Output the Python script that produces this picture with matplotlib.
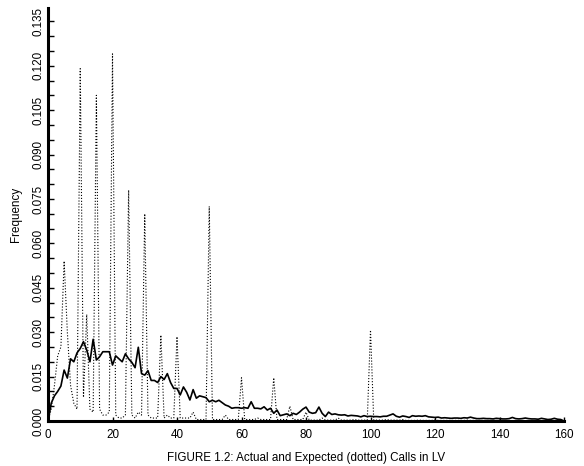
import matplotlib
matplotlib.use("Agg")
import matplotlib.pyplot as plt
import numpy as np
from matplotlib.ticker import MultipleLocator, FormatStrFormatter

plt.rcParams['font.family'] = ['Liberation Sans', 'DejaVu Sans']

# actual call frequencies, x = 0, 1, 2, ... 160
actual = [
    0.0000, 0.0060, 0.0085, 0.0100, 0.0118, 0.0172, 0.0145, 0.0210, 0.0200, 0.0230,
    0.0245, 0.0268, 0.0240, 0.0200, 0.0276, 0.0206, 0.0217, 0.0234, 0.0234, 0.0234,
    0.0189, 0.0220, 0.0210, 0.0200, 0.0227, 0.0210, 0.0198, 0.0180, 0.0249, 0.0160,
    0.0155, 0.0170, 0.0137, 0.0137, 0.0130, 0.0150, 0.0140, 0.0160, 0.0130, 0.0110,
    0.0110, 0.0088, 0.0115, 0.0097, 0.0071, 0.0106, 0.0077, 0.0085, 0.0082, 0.0079,
    0.0065, 0.0070, 0.0065, 0.0070, 0.0062, 0.0054, 0.0050, 0.0043, 0.0045, 0.0045,
    0.0043, 0.0045, 0.0043, 0.0065, 0.0043, 0.0043, 0.0041, 0.0048, 0.0037, 0.0043,
    0.0026, 0.0037, 0.0018, 0.0021, 0.0024, 0.0018, 0.0026, 0.0022, 0.0030, 0.0040,
    0.0047, 0.0030, 0.0026, 0.0028, 0.0047, 0.0026, 0.0015, 0.0030, 0.0022, 0.0024,
    0.0021, 0.0020, 0.0021, 0.0017, 0.0019, 0.0018, 0.0017, 0.0014, 0.0018, 0.0015,
    0.0016, 0.0015, 0.0015, 0.0014, 0.0016, 0.0016, 0.0020, 0.0024, 0.0016, 0.0013,
    0.0017, 0.0015, 0.0012, 0.0018, 0.0016, 0.0017, 0.0016, 0.0018, 0.0014, 0.0013,
    0.0012, 0.0013, 0.0010, 0.0011, 0.0010, 0.0009, 0.0010, 0.0010, 0.0009, 0.0011,
    0.0010, 0.0013, 0.0010, 0.0008, 0.0008, 0.0009, 0.0008, 0.0008, 0.0007, 0.0009,
    0.0008, 0.0007, 0.0007, 0.0008, 0.0012, 0.0008, 0.0007, 0.0008, 0.0010, 0.0008,
    0.0007, 0.0007, 0.0006, 0.0009, 0.0007, 0.0005, 0.0006, 0.0009, 0.0006, 0.0005,
    0.0000,
]

# expected frequencies (dotted), spikes on the round numbers
expected = [
    0.0000, 0.0040, 0.0120, 0.0220, 0.0250, 0.0540, 0.0300, 0.0120, 0.0060, 0.0040,
    0.1190, 0.0080, 0.0360, 0.0040, 0.0030, 0.1100, 0.0040, 0.0020, 0.0020, 0.0030,
    0.1240, 0.0020, 0.0010, 0.0010, 0.0020, 0.0780, 0.0020, 0.0010, 0.0030, 0.0020,
    0.0700, 0.0020, 0.0010, 0.0010, 0.0010, 0.0290, 0.0010, 0.0020, 0.0010, 0.0010,
    0.0285, 0.0010, 0.0010, 0.0010, 0.0010, 0.0030, 0.0005, 0.0005, 0.0005, 0.0005,
    0.0725, 0.0005, 0.0005, 0.0005, 0.0005, 0.0020, 0.0005, 0.0005, 0.0005, 0.0005,
    0.0146, 0.0005, 0.0005, 0.0005, 0.0005, 0.0010, 0.0005, 0.0005, 0.0005, 0.0005,
    0.0146, 0.0005, 0.0005, 0.0005, 0.0005, 0.0050, 0.0005, 0.0005, 0.0005, 0.0005,
    0.0030, 0.0003, 0.0003, 0.0003, 0.0003, 0.0010, 0.0003, 0.0003, 0.0003, 0.0003,
    0.0010, 0.0003, 0.0003, 0.0003, 0.0003, 0.0005, 0.0003, 0.0003, 0.0003, 0.0003,
    0.0307, 0.0003, 0.0003, 0.0003, 0.0003, 0.0005, 0.0003, 0.0003, 0.0003, 0.0003,
    0.0005, 0.0002, 0.0002, 0.0002, 0.0002, 0.0003, 0.0002, 0.0002, 0.0002, 0.0002,
    0.0004, 0.0002, 0.0002, 0.0002, 0.0002, 0.0002, 0.0002, 0.0002, 0.0002, 0.0002,
    0.0003, 0.0002, 0.0002, 0.0002, 0.0002, 0.0002, 0.0002, 0.0002, 0.0002, 0.0002,
    0.0003, 0.0001, 0.0001, 0.0001, 0.0001, 0.0001, 0.0001, 0.0001, 0.0001, 0.0001,
    0.0002, 0.0001, 0.0001, 0.0001, 0.0001, 0.0001, 0.0001, 0.0001, 0.0001, 0.0001,
    0.0000,
]

calls = np.arange(len(actual))

fig = plt.figure(figsize=(5.84, 4.66), dpi=100)
ax = fig.add_axes([48 / 584, 45 / 466, 516 / 584, 413 / 466])

ax.plot(calls, expected, color="black", linestyle=":", linewidth=0.8)
ax.plot(calls, actual, color="black", linewidth=1.2)

ax.set_xlim(0, 160)
ax.set_ylim(0, 0.1395)

for side in ("top", "right"):
    ax.spines[side].set_visible(False)
ax.spines["left"].set_linewidth(2.2)
ax.spines["bottom"].set_linewidth(2.2)

ax.xaxis.set_major_locator(MultipleLocator(20))
ax.yaxis.set_major_locator(MultipleLocator(0.015))
ax.yaxis.set_minor_locator(MultipleLocator(0.005))
ax.yaxis.set_major_formatter(FormatStrFormatter("%.3f"))
ax.tick_params(axis="both", which="both", direction="in", width=1, labelsize=8.4)
ax.tick_params(axis="y", which="both", length=4, pad=2.5)
ax.tick_params(axis="x", which="major", length=3, pad=6)
plt.setp(ax.get_yticklabels(), rotation=90, va="center")

ax.set_ylabel("Frequency", fontsize=8.4)
ax.yaxis.set_label_coords(-0.05, 0.5)
ax.set_xlabel("FIGURE 1.2: Actual and Expected (dotted) Calls in LV", fontsize=8.4, labelpad=8)

fig.savefig("out.png", dpi=100)
